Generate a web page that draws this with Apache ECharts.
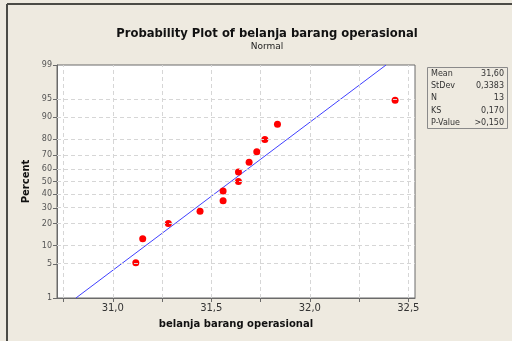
<!DOCTYPE html>
<html>
<head>
<meta charset="utf-8">
<script src="https://cdn.jsdelivr.net/npm/echarts@6/dist/echarts.min.js"></script>
<style>
  html, body { margin: 0; padding: 0; background: #eeeae0; }
  #chart { width: 512px; height: 341px; }
</style>
</head>
<body>
<div id="chart"></div>
<script>
// data
var percents = [5.22, 12.69, 20.15, 27.61, 35.07, 42.54, 50.0, 57.46, 64.93, 72.39, 79.85, 87.31, 94.78];
var values = [31.117, 31.152, 31.282, 31.443, 31.560, 31.560, 31.638, 31.638, 31.692, 31.731, 31.772, 31.836, 32.433];

// fitted line end points (value, percent)
var fitValues = [30.813, 32.387];
var fitPercents = [1, 99];

var percentTicks = [1, 5, 10, 20, 30, 40, 50, 60, 70, 80, 90, 95, 99];
var xLabelTicks = [31.0, 31.5, 32.0, 32.5];
var xMinorTicks = [30.75, 31.0, 31.25, 31.5, 31.75, 32.0, 32.25, 32.5];

var statLabels = ['Mean', 'StDev', 'N', 'KS', 'P-Value'];
var statValues = ['31,60', '0,3383', '13', '0,170', '>0,150'];

// inverse normal cdf (Acklam), used for the probability scale
function probit(p) {
    var a = [-39.69683028665376, 220.9460984245205, -275.9285104469687, 138.3577518672690, -30.66479806614716, 2.506628277459239];
    var b = [-54.47609879822406, 161.5858368580409, -155.6989798598866, 66.80131188771972, -13.28068155288572];
    var c = [-0.007784894002430293, -0.3223964580411365, -2.400758277161838, -2.549732539343734, 4.374664141464968, 2.938163982698783];
    var d = [0.007784695709041462, 0.3224671290700398, 2.445134137142996, 3.754408661907416];
    var pl = 0.02425, q, r;
    if (p < pl) {
        q = Math.sqrt(-2 * Math.log(p));
        return (((((c[0] * q + c[1]) * q + c[2]) * q + c[3]) * q + c[4]) * q + c[5]) /
            ((((d[0] * q + d[1]) * q + d[2]) * q + d[3]) * q + 1);
    }
    if (p > 1 - pl) {
        q = Math.sqrt(-2 * Math.log(1 - p));
        return -(((((c[0] * q + c[1]) * q + c[2]) * q + c[3]) * q + c[4]) * q + c[5]) /
            ((((d[0] * q + d[1]) * q + d[2]) * q + d[3]) * q + 1);
    }
    q = p - 0.5;
    r = q * q;
    return (((((a[0] * r + a[1]) * r + a[2]) * r + a[3]) * r + a[4]) * r + a[5]) * q /
        (((((b[0] * r + b[1]) * r + b[2]) * r + b[3]) * r + b[4]) * r + 1);
}
function z(pct) { return probit(pct / 100); }

var zTicks = percentTicks.map(z);
var zMin = z(1), zMax = z(99);

function percentLabel(v) {
    var best = 0;
    for (var i = 0; i < zTicks.length; i++) {
        if (Math.abs(zTicks[i] - v) < Math.abs(zTicks[best] - v)) best = i;
    }
    return String(percentTicks[best]);
}

var points = values.map(function (v, i) { return [v, z(percents[i])]; });
var fitLine = fitValues.map(function (v, i) { return [v, z(fitPercents[i])]; });

// dashed grid lines
var gridMarks = [];
percentTicks.slice(1, -1).forEach(function (p) { gridMarks.push({yAxis: z(p)}); });
xMinorTicks.forEach(function (v) { gridMarks.push({xAxis: v}); });

var fontFam = '"DejaVu Sans", Verdana, sans-serif';

var option = {
    backgroundColor: '#eeeae0',
    animation: false,
    title: {
        text: 'Probability Plot of belanja barang operasional',
        subtext: 'Normal',
        left: 262,
        textAlign: 'center',
        top: 23,
        itemGap: 2,
        textStyle: {fontFamily: fontFam, fontSize: 11.6, fontWeight: 'bold', color: '#111'},
        subtextStyle: {fontFamily: fontFam, fontSize: 9, color: '#222'}
    },
    grid: {
        left: 57, top: 65, width: 358, height: 233,
        show: true, backgroundColor: '#ffffff', borderColor: '#6a6a6a', borderWidth: 1
    },
    xAxis: {
        type: 'value',
        min: 30.717,
        max: 32.534,
        name: 'belanja barang operasional',
        nameLocation: 'middle',
        nameGap: 21,
        nameTextStyle: {fontFamily: fontFam, fontSize: 10, fontWeight: 'bold', color: '#111'},
        axisLine: {show: true, onZero: false, lineStyle: {color: '#6a6a6a'}},
        axisTick: {show: true, customValues: xMinorTicks, length: 4, lineStyle: {color: '#6a6a6a'}},
        axisLabel: {
            customValues: xLabelTicks,
            fontFamily: fontFam, fontSize: 10, color: '#333', margin: 5,
            formatter: function (v) { return v.toFixed(1).replace('.', ','); }
        },
        splitLine: {show: false}
    },
    yAxis: {
        type: 'value',
        min: zMin,
        max: zMax,
        name: 'Percent',
        nameLocation: 'middle',
        nameRotate: 90,
        nameGap: 20,
        nameTextStyle: {fontFamily: fontFam, fontSize: 10, fontWeight: 'bold', color: '#111'},
        axisLine: {show: true, onZero: false, lineStyle: {color: '#6a6a6a'}},
        axisTick: {show: true, customValues: zTicks, length: 4, lineStyle: {color: '#6a6a6a'}},
        axisLabel: {
            customValues: zTicks,
            fontFamily: fontFam, fontSize: 8, color: '#555', margin: 5,
            formatter: percentLabel
        },
        splitLine: {show: false}
    },
    series: [
        {
            type: 'line',
            data: [],
            z: 1,
            silent: true,
            markLine: {
                silent: true,
                symbol: 'none',
                label: {show: false},
                lineStyle: {type: [4, 3], color: '#d6d6d6', width: 1},
                data: gridMarks
            }
        },
        {
            type: 'line',
            data: fitLine,
            z: 3,
            symbol: 'none',
            silent: true,
            lineStyle: {color: '#4040ff', width: 1}
        },
        {
            type: 'scatter',
            data: points,
            z: 4,
            symbol: 'circle',
            symbolSize: 7,
            itemStyle: {color: '#ff0000', opacity: 1}
        }
    ],
    graphic: [
        {type: 'line', shape: {x1: 7, y1: 4, x2: 7, y2: 341}, style: {stroke: '#4b4b46', lineWidth: 2}},
        {type: 'line', shape: {x1: 7, y1: 4, x2: 512, y2: 4}, style: {stroke: '#4b4b46', lineWidth: 2}},
        {type: 'rect', shape: {x: 427.5, y: 67.5, width: 80, height: 61}, style: {fill: 'none', stroke: '#8a8a8a', lineWidth: 1}}
    ]
};

statLabels.forEach(function (lab, i) {
    option.graphic.push({
        type: 'text', x: 431, y: 74 + i * 12.2,
        style: {text: lab, fontFamily: fontFam, fontSize: 8, fill: '#333', verticalAlign: 'middle'}
    });
    option.graphic.push({
        type: 'text', x: 504, y: 74 + i * 12.2,
        style: {text: statValues[i], fontFamily: fontFam, fontSize: 8, fill: '#333', align: 'right', verticalAlign: 'middle'}
    });
});

var myChart = echarts.init(document.getElementById('chart'));
myChart.setOption(option);
</script>
</body>
</html>
